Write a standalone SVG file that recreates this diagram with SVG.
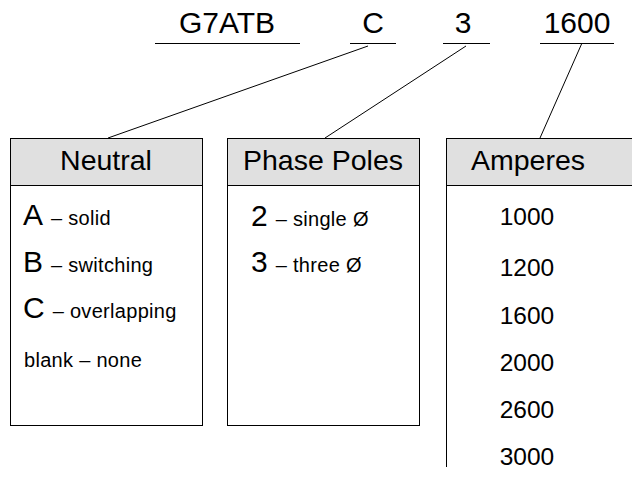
<svg xmlns="http://www.w3.org/2000/svg" width="632" height="479" viewBox="0 0 632 479">
<style>
text{font-family:"Liberation Sans",Arial,sans-serif;fill:#000}
.top{font-size:30px;text-anchor:middle}
.hdr{font-size:28.5px;text-anchor:middle}
.big{font-size:30px}
.sm{font-size:20px;letter-spacing:0.3px}
.num{font-size:24.5px;text-anchor:middle}
.ln{stroke:#000;stroke-width:1;fill:none}
.box{fill:#fff;stroke:#000;stroke-width:1}
.head{fill:#e0e0e0;stroke:#000;stroke-width:1}
</style>
<rect width="632" height="479" fill="#fff"/>
<g id="code">
<text class="top" x="227" y="33">G7ATB</text>
<text class="top" x="373" y="33">C</text>
<text class="top" x="463" y="33">3</text>
<text class="top" x="577" y="33">1600</text>
<path class="ln" d="M155 43.5H300M350 43.5H396M443 43.5H490M540 43.5H614"/>
</g>
<g id="connectors">
<line class="ln" x1="368" y1="46" x2="108" y2="138"/>
<line class="ln" x1="466" y1="46" x2="325" y2="138"/>
<line class="ln" x1="582" y1="43" x2="540" y2="138"/>
</g>
<g id="neutral">
<rect class="box" x="10.5" y="138.5" width="192" height="287"/>
<rect class="head" x="10.5" y="138.5" width="192" height="47"/>
<text class="hdr" x="106" y="170">Neutral</text>
<text x="23" y="225"><tspan class="big">A</tspan><tspan class="sm" dx="8">– solid</tspan></text>
<text x="23" y="272"><tspan class="big">B</tspan><tspan class="sm" dx="8">– switching</tspan></text>
<text x="23" y="318"><tspan class="big">C</tspan><tspan class="sm" dx="8">– overlapping</tspan></text>
<text class="sm" x="24" y="367">blank – none</text>
</g>
<g id="phase">
<rect class="box" x="227.5" y="138.5" width="192" height="287"/>
<rect class="head" x="227.5" y="138.5" width="192" height="47"/>
<text class="hdr" x="323" y="170">Phase Poles</text>
<text x="251" y="226"><tspan class="big">2</tspan><tspan class="sm" dx="8">– single Ø</tspan></text>
<text x="251" y="272"><tspan class="big">3</tspan><tspan class="sm" dx="8">– three Ø</tspan></text>
</g>
<g id="amperes">
<rect class="head" x="446.5" y="138.5" width="190" height="47"/>
<line class="ln" x1="446.5" y1="185" x2="446.5" y2="467"/>
<text class="hdr" x="528" y="170">Amperes</text>
<text class="num" x="527" y="225">1000</text>
<text class="num" x="527" y="276">1200</text>
<text class="num" x="527" y="324">1600</text>
<text class="num" x="527" y="371">2000</text>
<text class="num" x="527" y="418">2600</text>
<text class="num" x="527" y="465">3000</text>
</g>
</svg>
